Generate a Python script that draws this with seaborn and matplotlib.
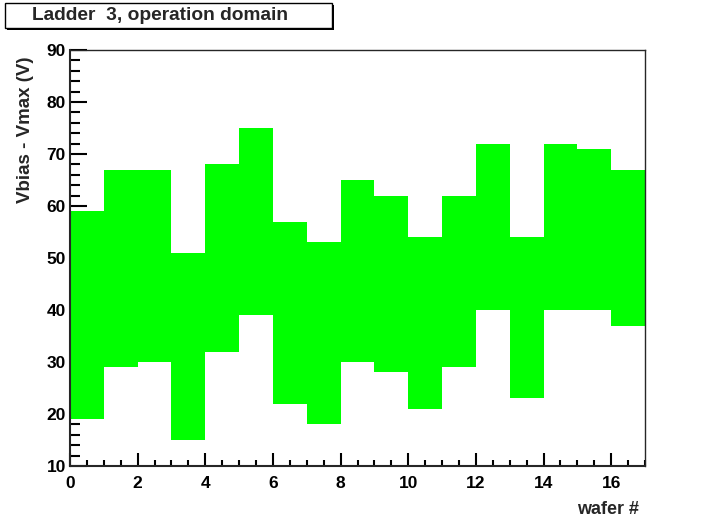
import pandas as pd
import seaborn as sns
import matplotlib.pyplot as plt
from matplotlib.patches import Rectangle
from matplotlib.ticker import MultipleLocator

# operation domain per wafer: lower and upper limit of Vbias - Vmax (V)
wafers = list(range(17))
v_low = [19, 29, 30, 15, 32, 39, 22, 18, 30, 28, 21, 29, 40, 23, 40, 40, 37]
v_high = [59, 67, 67, 51, 68, 75, 57, 53, 65, 62, 54, 62, 72, 54, 72, 71, 67]

sns.set_theme(style="ticks")
plt.rcParams["font.family"] = ["Liberation Sans", "DejaVu Sans"]
plt.rcParams["font.weight"] = "bold"

df = pd.DataFrame({"center": [w + 0.5 for w in wafers],
                   "low": v_low, "high": v_high})
df["span"] = df["high"] - df["low"]

fig = plt.figure(figsize=(7.17, 5.19), dpi=100)
ax = fig.add_axes([70 / 717, 53 / 519, 575 / 717, 416 / 519])

sns.barplot(data=df, x="center", y="span", bottom=df["low"], native_scale=True,
            width=1, color="#00ff00", saturation=1, errorbar=None,
            linewidth=0, ax=ax)

ax.set_xlim(0, 17)
ax.set_ylim(10, 90)
ax.xaxis.set_major_locator(MultipleLocator(2))
ax.xaxis.set_minor_locator(MultipleLocator(0.5))
ax.yaxis.set_major_locator(MultipleLocator(10))
ax.yaxis.set_minor_locator(MultipleLocator(2))
ax.tick_params(which="both", direction="in", width=1.5, colors="black",
               labelsize=12.5, top=False, right=False)
ax.tick_params(axis="y", which="major", length=12, pad=3)
ax.tick_params(axis="y", which="minor", length=7)
ax.tick_params(axis="x", which="major", length=9.5, pad=7)
ax.tick_params(axis="x", which="minor", length=4.5)
for lbl in ax.get_xticklabels() + ax.get_yticklabels():
    lbl.set_fontweight("bold")
for side in ["left", "bottom"]:
    ax.spines[side].set_linewidth(1.5)
for side in ["top", "right"]:
    ax.spines[side].set_linewidth(1.0)
    ax.spines[side].set_visible(True)

ax.set_xlabel("wafer #", fontsize=13, fontweight="bold", ha="right")
ax.xaxis.set_label_coords(0.99, -0.085)
ax.set_ylabel("Vbias - Vmax (V)", fontsize=13.5, fontweight="bold", ha="right")
ax.yaxis.set_label_coords(-0.062, 0.985)

# ROOT-style title box with shadow
fig.add_artist(Rectangle((7 / 717, 1 - 30 / 519), 327 / 717, 25 / 519,
                         transform=fig.transFigure, facecolor="black",
                         edgecolor="none"))
fig.add_artist(Rectangle((5 / 717, 1 - 28 / 519), 327 / 717, 25 / 519,
                         transform=fig.transFigure, facecolor="white",
                         edgecolor="black", linewidth=1))
fig.text(160 / 717, 1 - 15 / 519, "Ladder  3, operation domain",
         fontsize=13.8, fontweight="bold", ha="center", va="center")

fig.savefig("out.png", dpi=100)
